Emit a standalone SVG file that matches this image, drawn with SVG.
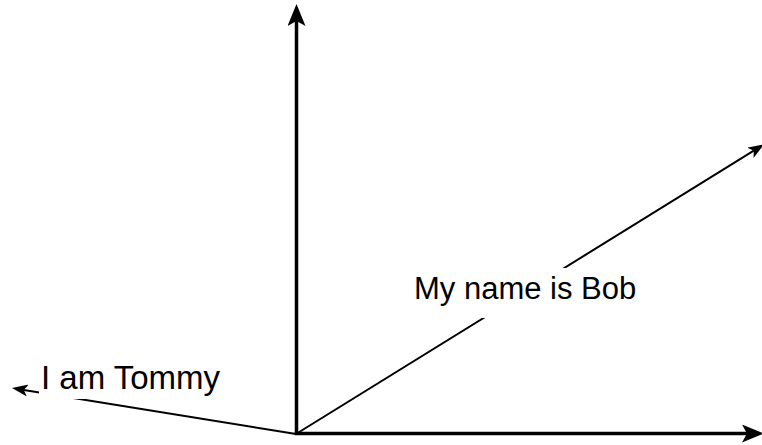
<svg xmlns="http://www.w3.org/2000/svg" width="762" height="445" viewBox="0 0 762 445">
<style>
.axis{stroke:#000;stroke-width:3.5;fill:none}
.thin{stroke:#000;stroke-width:2;fill:none}
.lbl{font-family:"Liberation Sans",Arial,sans-serif;fill:#000}
.bg{fill:#fff}
</style>
<defs>
<marker id="big" markerUnits="userSpaceOnUse" viewBox="0 0 22 18" refX="5" refY="9" markerWidth="22" markerHeight="18" orient="auto">
<path d="M0,0 L22,9 L0,18 L5,9 Z" fill="#000"/>
</marker>
<marker id="small" markerUnits="userSpaceOnUse" viewBox="0 0 16 12" refX="4" refY="6" markerWidth="16" markerHeight="12" orient="auto">
<path d="M0,0 L16,6 L0,12 L4,6 Z" fill="#000"/>
</marker>
</defs>
<rect width="762" height="445" fill="#fff"/>
<g id="connectors">
<line id="bob-edge" class="thin" x1="296" y1="434" x2="753.8" y2="150.7" marker-end="url(#small)"/>
<line id="tommy-edge" class="thin" x1="296" y1="434" x2="23.8" y2="389.9" marker-end="url(#small)"/>
<line id="y-axis" class="axis" x1="296.5" y1="435" x2="296.5" y2="21" marker-end="url(#big)"/>
<line id="x-axis" class="axis" x1="294.8" y1="433.5" x2="747" y2="433.5" marker-end="url(#big)"/>
</g>
<g id="label-bob">
<rect class="bg" x="412" y="268" width="222" height="50"/>
<text class="lbl" x="414" y="299" font-size="31">My name is Bob</text>
</g>
<g id="label-tommy">
<rect class="bg" x="39" y="360" width="186" height="39"/>
<text class="lbl" x="41" y="389" font-size="33">I am Tommy</text>
</g>
</svg>
